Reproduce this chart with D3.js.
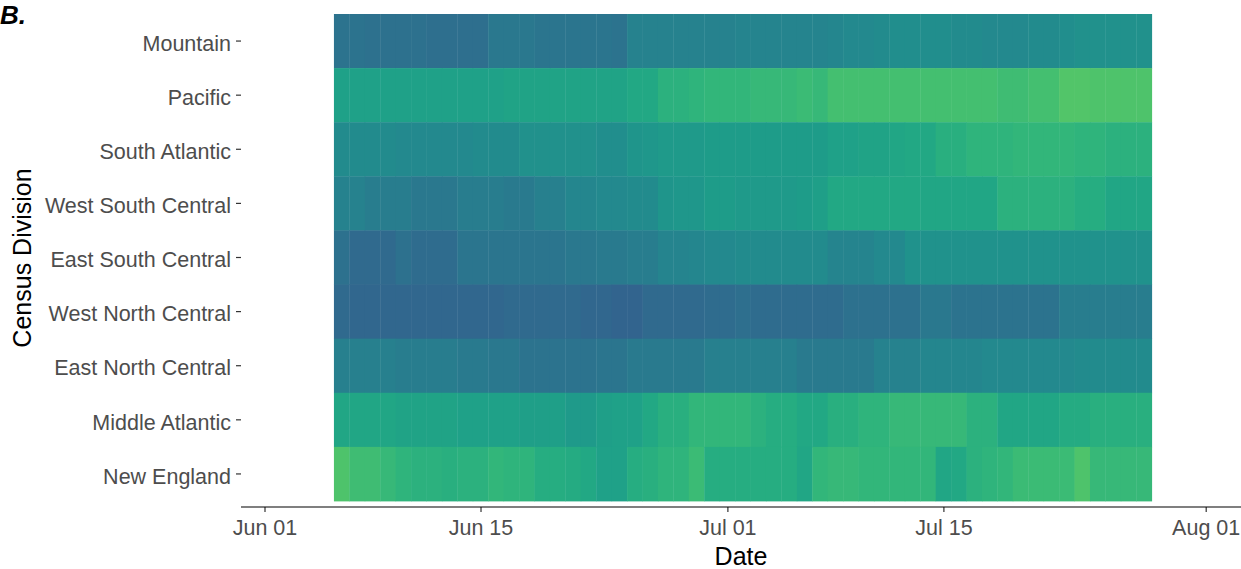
<!DOCTYPE html>
<html>
<head>
<meta charset="utf-8">
<script src="https://cdn.jsdelivr.net/npm/d3@7"></script>
<style>
body{margin:0;background:#fff}
text{font-family:"Liberation Sans",Arial,sans-serif}
</style>
</head>
<body>
<div id="chart"></div>
<script>
var w = 1241, h = 569

var divisions = ["Mountain","Pacific","South Atlantic","West South Central","East South Central",
	"West North Central","East North Central","Middle Atlantic","New England"]

// one value per day, Jun 06 .. Jul 28
var mountain = [.38,.38,.37,.37,.37,.37,.36,.36,.36,.36,.40,.40,.40,.39,.39,.39,.39,.39,.38,.44,.44,.44,.44,.44,.44,.44,
	.45,.45,.45,.45,.45,.45,.46,.47,.47,.48,.49,.49,.49,.49,.48,.48,.47,.47,.47,.48,.48,.49,.50,.50,.50,.50,.50]
var pacific = [.57,.57,.57,.57,.57,.57,.57,.57,.57,.57,.57,.58,.58,.58,.58,.58,.58,.58,.58,.60,.60,.64,.64,.65,.66,.66,
	.66,.67,.67,.67,.68,.67,.70,.70,.70,.70,.70,.70,.70,.70,.70,.70,.70,.69,.69,.70,.70,.73,.73,.72,.72,.72,.72]
var southAtlantic = [.48,.48,.48,.48,.47,.47,.47,.47,.47,.48,.48,.48,.50,.50,.50,.50,.50,.49,.49,.52,.53,.54,.54,.54,.55,.55,
	.55,.55,.55,.55,.55,.55,.57,.57,.58,.58,.59,.60,.60,.63,.63,.65,.65,.65,.66,.66,.66,.66,.65,.65,.64,.64,.64]
var westSouthCentral = [.44,.44,.42,.42,.42,.40,.40,.40,.42,.42,.42,.41,.41,.43,.43,.46,.46,.47,.47,.48,.48,.52,.53,.53,.55,.55,
	.54,.54,.54,.54,.55,.56,.60,.60,.60,.60,.60,.60,.59,.59,.59,.59,.59,.64,.64,.64,.64,.64,.62,.62,.59,.59,.59]
var eastSouthCentral = [.37,.34,.34,.34,.37,.35,.35,.35,.39,.39,.39,.39,.39,.39,.39,.40,.40,.41,.41,.42,.42,.45,.45,.46,.47,.47,
	.48,.48,.48,.48,.48,.48,.45,.45,.45,.47,.47,.51,.51,.51,.51,.51,.51,.51,.51,.51,.51,.51,.51,.51,.51,.51,.51]
var westNorthCentral = [.34,.33,.33,.33,.33,.33,.33,.33,.33,.33,.33,.34,.34,.34,.34,.34,.33,.33,.32,.32,.34,.34,.34,.34,.35,.35,
	.36,.35,.35,.35,.35,.35,.35,.37,.37,.37,.37,.37,.40,.40,.38,.38,.38,.38,.38,.38,.38,.42,.42,.42,.42,.42,.42]
var eastNorthCentral = [.43,.43,.43,.43,.42,.42,.42,.42,.41,.41,.40,.40,.38,.38,.38,.38,.38,.39,.39,.41,.41,.41,.41,.41,.43,.43,
	.43,.43,.43,.43,.41,.41,.41,.41,.41,.44,.44,.44,.46,.46,.46,.46,.47,.47,.47,.47,.47,.47,.48,.48,.48,.48,.48]
var middleAtlantic = [.59,.59,.59,.59,.58,.58,.58,.58,.57,.57,.57,.57,.56,.56,.56,.54,.54,.56,.57,.57,.60,.63,.63,.66,.66,.66,
	.66,.64,.62,.62,.60,.60,.63,.63,.65,.65,.67,.67,.67,.67,.67,.64,.64,.59,.59,.59,.59,.61,.61,.63,.63,.63,.63]
var newEngland = [.72,.69,.69,.67,.65,.64,.64,.63,.64,.64,.66,.65,.65,.62,.62,.61,.60,.57,.57,.62,.63,.65,.65,.68,.62,.62,
	.62,.62,.62,.62,.59,.66,.67,.67,.66,.66,.66,.66,.66,.59,.60,.64,.65,.66,.68,.68,.68,.68,.72,.67,.67,.67,.67]

var series = [mountain,pacific,southAtlantic,westSouthCentral,eastSouthCentral,
	westNorthCentral,eastNorthCentral,middleAtlantic,newEngland]

var firstDay = new Date(2020,5,6)
var xTicks = [new Date(2020,5,1),new Date(2020,5,15),new Date(2020,6,1),new Date(2020,6,15),new Date(2020,7,1)]

var cells = []
series.forEach(function(vals,r){
	vals.forEach(function(v,i){
		cells.push({division:divisions[r],date:d3.timeDay.offset(firstDay,i),value:v})
	})
})

var svg = d3.select("#chart").append("svg").attr("width",w).attr("height",h)

var x = d3.scaleTime().domain([xTicks[0],xTicks[4]]).range([264.5,1205.7])
var y = d3.scaleBand().domain(divisions).range([14,501])
var color = d3.scaleSequential(d3.interpolateViridis).domain([0,1])

svg.selectAll(".tile")
	.data(cells)
	.enter()
	.append("rect")
	.attr("class","tile")
	.attr("x",function(d){
		var half = (x(d3.timeDay.offset(d.date,1))-x(d.date))/2
		return x(d.date)-half
	})
	.attr("width",function(d){
		return x(d3.timeDay.offset(d.date,1))-x(d.date)+0.4
	})
	.attr("y",function(d){return y(d.division)})
	.attr("height",y.bandwidth()+0.4)
	.attr("fill",function(d){return color(d.value)})

// x axis
var xAxis = svg.append("g").attr("transform","translate(0,507)")
	.call(d3.axisBottom(x).tickValues(xTicks).tickFormat(d3.timeFormat("%b %d")).tickSize(5).tickPadding(8))
xAxis.select(".domain").remove()
xAxis.append("line").attr("x1",241).attr("x2",1241).attr("stroke","#000").attr("stroke-width",1.2)
xAxis.selectAll(".tick line").attr("stroke","#333").attr("stroke-width",1.2)
xAxis.selectAll(".tick text").attr("fill","#4d4d4d").style("font-size","21.5px").attr("font-family",null)

// y axis
var yAxis = svg.append("g").attr("transform","translate(241,0)")
	.call(d3.axisLeft(y).tickSize(5).tickPadding(5))
yAxis.select(".domain").remove()
yAxis.selectAll(".tick line").attr("stroke","#333").attr("stroke-width",1.2)
yAxis.selectAll(".tick text").attr("fill","#4d4d4d").attr("dy","0.45em").style("font-size","21.5px").attr("font-family",null)

svg.append("text").attr("x",741).attr("y",565).attr("text-anchor","middle")
	.style("font-size","25px").text("Date")

svg.append("text").attr("transform","translate(31,258) rotate(-90)").attr("text-anchor","middle")
	.style("font-size","25px").text("Census Division")

svg.append("text").attr("x",0).attr("y",24)
	.style("font-size","26px").style("font-weight","bold").style("font-style","italic").text("B.")
</script>
</body>
</html>
